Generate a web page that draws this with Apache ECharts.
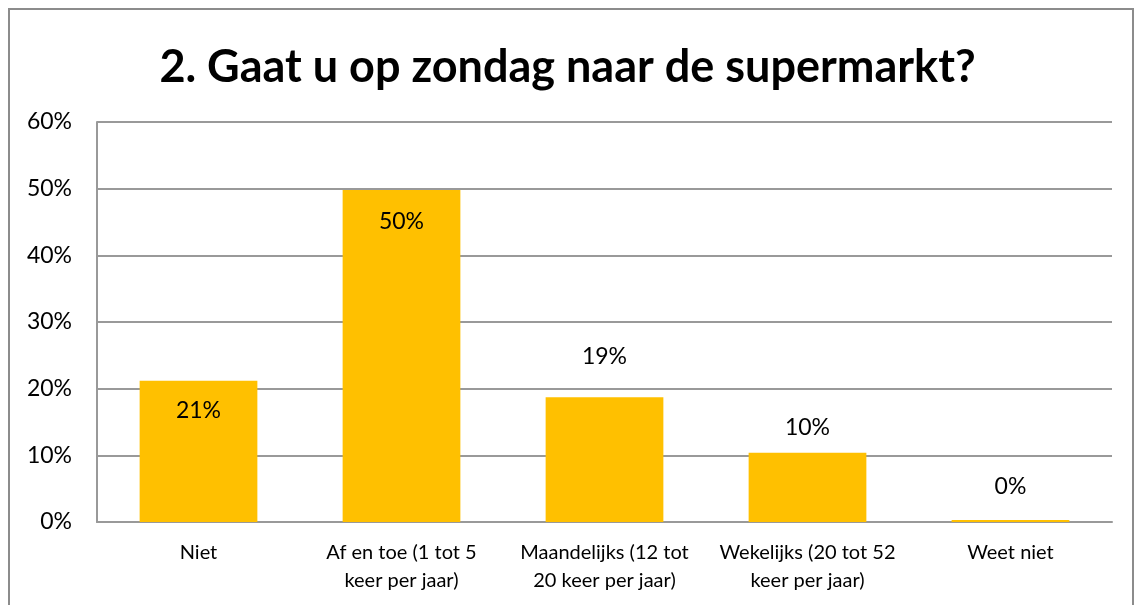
<!DOCTYPE html>
<html>
<head>
<meta charset="utf-8">
<script src="https://cdn.jsdelivr.net/npm/echarts@6/dist/echarts.min.js"></script>
<style>
  html, body { margin: 0; padding: 0; background: #fff; }
  #chart { width: 1135px; height: 605px; }
</style>
</head>
<body>
<div id="chart"></div>
<script>
// categorieën en waarden (in procenten)
var categories = [
  'Niet',
  'Af en toe (1 tot 5\nkeer per jaar)',
  'Maandelijks (12 tot\n20 keer per jaar)',
  'Wekelijks (20 tot 52\nkeer per jaar)',
  'Weet niet'
];
var values = [21.2, 49.8, 18.7, 10.4, 0.3];
var yTicks = [0, 10, 20, 30, 40, 50, 60];

// labelplaatsing per staaf, zoals in het origineel
var labelPos = [
  { position: 'insideTop', distance: 18 },
  { position: 'insideTop', distance: 20 },
  { position: 'top', distance: 29 },
  { position: 'top', distance: 14 },
  { position: 'top', distance: 22 }
];

var font = 'Lato, "Open Sans", sans-serif';

var seriesData = values.map(function (v, i) {
  return {
    value: v,
    label: labelPos[i]
  };
});

var option = {
  animation: false,
  title: {
    text: '2. Gaat u op zondag naar de supermarkt?',
    left: 'center',
    top: 40,
    textStyle: {
      fontFamily: font,
      fontWeight: 'bold',
      fontSize: 45,
      color: '#000'
    }
  },
  graphic: [
    {
      type: 'rect',
      shape: { x: 9, y: 9, width: 1124, height: 620 },
      style: { fill: 'none', stroke: '#8c8c8c', lineWidth: 2 },
      silent: true
    }
  ],
  grid: {
    left: 97,
    right: 23,
    top: 122,
    bottom: 83
  },
  xAxis: {
    type: 'category',
    data: categories,
    axisTick: { show: false },
    axisLine: { lineStyle: { color: '#999', width: 2 } },
    axisLabel: {
      color: '#000',
      fontFamily: font,
      fontSize: 20,
      lineHeight: 28,
      margin: 17,
      interval: 0
    }
  },
  yAxis: {
    type: 'value',
    min: yTicks[0],
    max: yTicks[yTicks.length - 1],
    interval: 10,
    axisLine: { show: true, lineStyle: { color: '#999', width: 2 } },
    axisTick: { show: false },
    splitLine: { lineStyle: { color: '#999', width: 2 } },
    axisLabel: {
      formatter: '{value}%',
      color: '#000',
      fontFamily: font,
      fontSize: 23,
      margin: 25
    }
  },
  series: [
    {
      type: 'bar',
      data: seriesData,
      barWidth: '58%',
      itemStyle: { color: '#FFC000' },
      label: {
        show: true,
        color: '#000',
        fontFamily: font,
        fontSize: 23,
        formatter: function (p) {
          return Math.round(p.value) + '%';
        }
      }
    }
  ]
};

var chart = echarts.init(document.getElementById('chart'));
chart.setOption(option);
window.onresize = function () {
  chart.resize();
};
</script>
</body>
</html>
